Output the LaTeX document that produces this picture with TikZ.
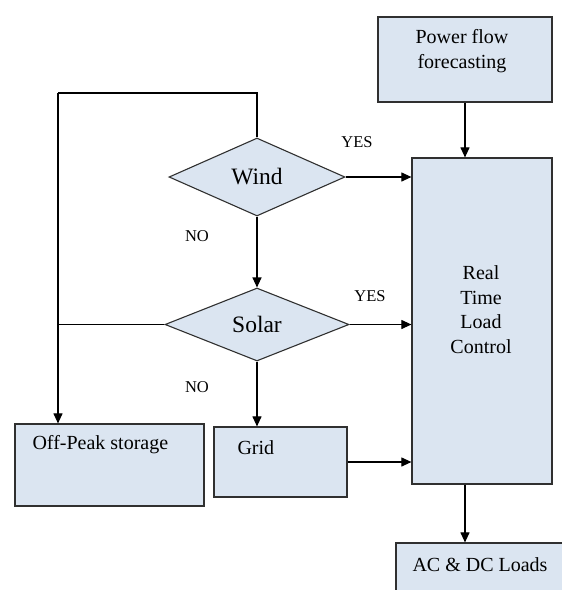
\documentclass[tikz,border=0pt]{standalone}
\usepackage{fontspec}
\setmainfont{Liberation Serif}
\usetikzlibrary{shapes.geometric,arrows.meta}

\definecolor{boxfill}{HTML}{DBE5F1}
\definecolor{boxline}{HTML}{303030}
\tikzset{
    flowbox/.style={draw=boxline,line width=1.2pt,fill=boxfill,rectangle,inner sep=0pt},
    decide/.style={draw=boxline,line width=1.1pt,fill=boxfill,diamond,inner sep=0pt,font=\rmfamily\fontsize{23.5}{26}\selectfont},
    boxtext/.style={text=black,font=\rmfamily\fontsize{20}{24.5}\selectfont,align=center},
    answer/.style={text=black,font=\rmfamily\fontsize{16.5}{18}\selectfont},
    flow/.style={draw=black,line width=1.1pt,-{Triangle[length=10pt,width=9pt]}},
    plain/.style={draw=black,line width=1.1pt}
}

\begin{document}
\begin{tikzpicture}[x=1pt,y=-1pt]
    \useasboundingbox[fill=white] (0,0) rectangle (562,590);
    \node[flowbox,minimum width=174pt,minimum height=85pt] (pff) at (465,59.5) {};
    \node[boxtext] (pfftext) at (462,51) {Power flow\\forecasting};
    \node[flowbox,minimum width=140pt,minimum height=326pt] (rtlc) at (482,321) {};
    \node[boxtext] (rtlctext) at (481,309.5) {Real\\Time\\Load\\Control};
    \node[decide,minimum width=176pt,minimum height=78pt] (wind) at (257,177) {Wind};
    \node[decide,minimum width=184pt,minimum height=73pt] (solar) at (257,324.5) {Solar};
    \node[flowbox,minimum width=189pt,minimum height=82pt] (offpeak) at (109.5,465) {};
    \node[boxtext,anchor=west] (offpeaktext) at (29,445) {Off-Peak storage};
    \node[flowbox,minimum width=133pt,minimum height=70pt] (grid) at (280.5,462) {};
    \node[boxtext,anchor=west] (gridtext) at (234,448) {Grid};
    \node[flowbox,minimum width=180pt,minimum height=60pt] (acdc) at (486,573) {};
    \node[boxtext] (acdctext) at (480,565) {AC \& DC Loads};
    \node[answer] (yeswind) at (357,142) {YES};
    \node[answer] (yessolar) at (370,296) {YES};
    \node[answer] (nowind) at (197,236) {NO};
    \node[answer] (nosolar) at (197,387) {NO};
    \coordinate (loop) at (58,93);
    \coordinate (down) at (465,0);
    \draw[flow] (pff.south) -- (pff.south |- rtlc.north);
    \draw[plain] (wind.north) |- (loop);
    \draw[flow] (loop) -- (loop |- offpeak.north);
    \draw[flow] (wind.east) -- (wind.east -| rtlc.west);
    \draw[flow] (wind.south) -- (solar.north);
    \draw[plain] (solar.west) -- (solar.west -| loop);
    \draw[flow] (solar.east) -- (solar.east -| rtlc.west);
    \draw[flow] (solar.south) -- (solar.south |- grid.north);
    \draw[flow] (grid.east) -- (grid.east -| rtlc.west);
    \draw[flow] (down |- rtlc.south) -- (down |- acdc.north);
\end{tikzpicture}
\end{document}
